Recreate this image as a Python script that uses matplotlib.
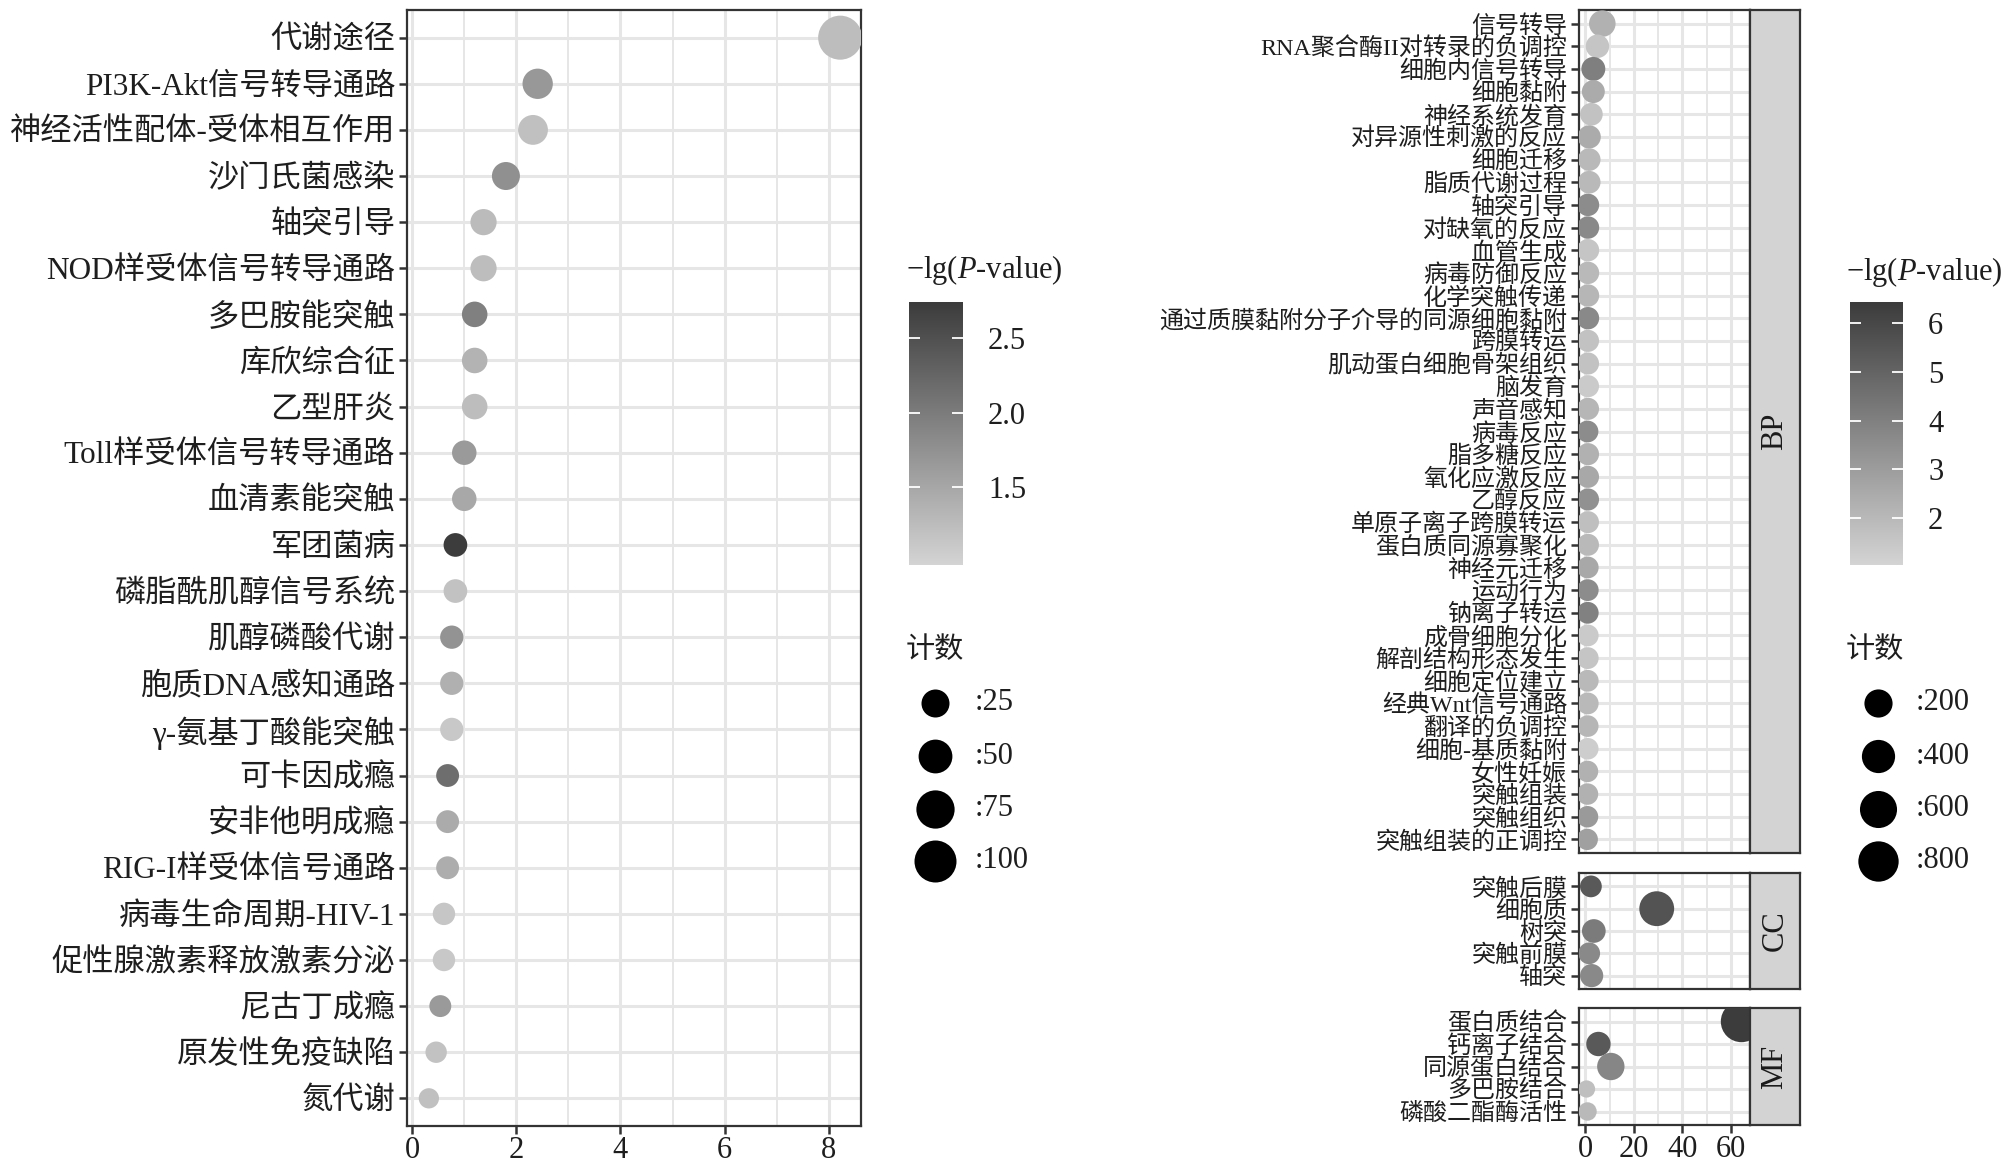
import numpy as np
import matplotlib
matplotlib.use('Agg')
import matplotlib.pyplot as plt
from matplotlib.colors import LinearSegmentedColormap, Normalize

plt.rcParams['font.family'] = ['Liberation Serif', 'Noto Sans CJK SC']
plt.rcParams['mathtext.fontset'] = 'custom'
plt.rcParams['mathtext.rm'] = 'Liberation Serif'
plt.rcParams['mathtext.it'] = 'Liberation Serif:italic'

# ---- KEGG (left) ----
kegg_terms = ['代谢途径', 'PI3K-Akt信号转导通路', '神经活性配体-受体相互作用', '沙门氏菌感染',
              '轴突引导', 'NOD样受体信号转导通路', '多巴胺能突触', '库欣综合征', '乙型肝炎',
              'Toll样受体信号转导通路', '血清素能突触', '军团菌病', '磷脂酰肌醇信号系统',
              '肌醇磷酸代谢', '胞质DNA感知通路', 'γ-氨基丁酸能突触', '可卡因成瘾', '安非他明成瘾',
              'RIG-I样受体信号通路', '病毒生命周期-HIV-1', '促性腺激素释放激素分泌', '尼古丁成瘾',
              '原发性免疫缺陷', '氮代谢']
kegg_x = [8.22, 2.41, 2.32, 1.80, 1.37, 1.37, 1.20, 1.20, 1.20, 1.00, 1.00, 0.83, 0.83,
          0.76, 0.76, 0.76, 0.68, 0.68, 0.68, 0.61, 0.61, 0.54, 0.46, 0.32]
kegg_count = [115, 34, 32, 25, 19, 19, 17, 17, 17, 14, 14, 12, 12,
              11, 11, 11, 10, 10, 10, 9, 9, 8, 7, 5]
kegg_lgp = [1.25, 1.67, 1.21, 1.77, 1.27, 1.25, 1.95, 1.36, 1.25, 1.65, 1.49, 2.74, 1.19,
            1.73, 1.40, 1.12, 2.16, 1.45, 1.43, 1.15, 1.12, 1.65, 1.19, 1.21]
kegg_lgp_lim = (0.98, 2.74)
kegg_size_breaks = [25, 50, 75, 100]
kegg_cbar_ticks = [1.5, 2.0, 2.5]

# ---- GO (right) ----
bp_terms = ['信号转导', 'RNA聚合酶II对转录的负调控', '细胞内信号转导', '细胞黏附', '神经系统发育',
            '对异源性刺激的反应', '细胞迁移', '脂质代谢过程', '轴突引导', '对缺氧的反应', '血管生成',
            '病毒防御反应', '化学突触传递', '通过质膜黏附分子介导的同源细胞黏附', '跨膜转运',
            '肌动蛋白细胞骨架组织', '脑发育', '声音感知', '病毒反应', '脂多糖反应', '氧化应激反应',
            '乙醇反应', '单原子离子跨膜转运', '蛋白质同源寡聚化', '神经元迁移', '运动行为',
            '钠离子转运', '成骨细胞分化', '解剖结构形态发生', '细胞定位建立', '经典Wnt信号通路',
            '翻译的负调控', '细胞-基质黏附', '女性妊娠', '突触组装', '突触组织', '突触组装的正调控']
bp_x = [7.0, 5.0, 3.3, 3.3, 2.5, 1.6, 1.6, 1.6, 1.1, 1.1, 1.1, 1.1, 1.1, 1.1, 1.1, 1.1, 1.1,
        1.1, 0.9, 1.1, 1.1, 1.1, 1.1, 1.1, 1.0, 1.0, 1.0, 1.0, 1.0, 1.0, 1.0, 1.0, 1.0, 0.9,
        0.9, 0.9, 0.8]
bp_count = [150, 75, 85, 65, 60, 70, 60, 60, 55, 55, 55, 55, 55, 55, 50, 50, 50, 50, 45, 50,
            50, 50, 48, 48, 45, 45, 45, 45, 45, 45, 45, 42, 42, 40, 40, 40, 38]
bp_lgp = [2.3, 1.6, 4.06, 2.5, 1.7, 2.5, 2.0, 2.0, 3.6, 3.7, 1.6, 2.0, 2.1, 3.7, 1.7, 1.7,
          1.4, 2.1, 3.6, 2.3, 2.6, 3.4, 1.8, 2.0, 2.6, 3.6, 4.0, 1.4, 1.6, 2.0, 2.0, 2.1,
          1.3, 2.3, 2.3, 3.1, 2.9]

cc_terms = ['突触后膜', '细胞质', '树突', '突触前膜', '轴突']
cc_x = [2.3, 29.4, 3.5, 1.6, 2.6]
cc_count = [45, 480, 80, 45, 70]
cc_lgp = [5.4, 5.6, 4.2, 3.7, 3.7]

mf_terms = ['蛋白质结合', '钙离子结合', '同源蛋白结合', '多巴胺结合', '磷酸二酯酶活性']
mf_x = [64.3, 5.4, 10.5, 0.5, 0.9]
mf_count = [870, 95, 175, 2, 8]
mf_lgp = [6.43, 5.4, 3.8, 1.8, 2.0]

go_lgp_lim = (1.04, 6.43)
go_size_breaks = [200, 400, 600, 800]
go_cbar_ticks = [2, 3, 4, 5, 6]

W, H = 2006, 1171
cmap = LinearSegmentedColormap.from_list('greys', ['#d4d4d4', '#3c3c3c'])
dark = '#333333'
txt = '#1e1e1e'
gridc = '#e6e6e6'


def kegg_size(c):
    d = 14 + 2.8 * np.sqrt(np.asarray(c, float))
    return (d * 0.72) ** 2


def go_size(c):
    d = 16 + 0.86 * np.sqrt(np.asarray(c, float))
    return (d * 0.72) ** 2


def box(l, t, r, b):
    return [l / W, 1 - b / H, (r - l) / W, (b - t) / H]


def panel(ax, terms, xs, counts, lgp, norm, sizefn, xlim, major, minor, fs, xlabels=True):
    y = np.arange(len(terms))
    ax.scatter(xs, y, s=sizefn(counts), c=lgp, cmap=cmap, norm=norm,
               linewidths=0, zorder=3)
    ax.set_yticks(y)
    ax.set_yticklabels(terms, fontsize=fs, color=txt)
    ax.set_ylim(len(terms) - 1 + 0.6, -0.6)
    ax.set_xlim(*xlim)
    ax.set_xticks(major)
    ax.set_xticks(minor, minor=True)
    ax.grid(which='major', color=gridc, lw=2.2)
    ax.grid(which='minor', axis='x', color=gridc, lw=1.4)
    ax.set_axisbelow(True)
    for s in ax.spines.values():
        s.set_color(dark)
        s.set_linewidth(1.6)
    ax.tick_params(axis='both', which='major', length=5.5, width=1.8, color=dark, pad=3)
    ax.tick_params(axis='x', which='minor', length=0)
    ax.tick_params(axis='x', labelsize=22, labelcolor=txt, pad=2)
    if not xlabels:
        ax.tick_params(axis='x', which='both', length=0, labelbottom=False)


def colorbar(rect, lim, ticks, fmt):
    cax = fig.add_axes(rect)
    grad = np.linspace(lim[0], lim[1], 256)[:, None]
    cax.imshow(grad, extent=[0, 1, lim[0], lim[1]], origin='lower', aspect='auto',
               cmap=cmap, norm=Normalize(*lim))
    cax.hlines(ticks, 0, 0.2, color='white', lw=1.3)
    cax.hlines(ticks, 0.8, 1, color='white', lw=1.3)
    cax.set_xlim(0, 1)
    cax.set_ylim(*lim)
    cax.set_xticks([])
    cax.yaxis.tick_right()
    cax.set_yticks(ticks)
    cax.set_yticklabels([fmt.format(t) for t in ticks], fontsize=22, color=txt)
    cax.tick_params(axis='y', length=0, pad=18)
    for s in cax.spines.values():
        s.set_visible(False)


def size_legend(ov, x0, breaks, sizefn, ys, labx):
    for b, yy in zip(breaks, ys):
        ov.scatter([x0], [yy], s=sizefn([b]), color='black', linewidths=0)
        ov.text(labx, yy, ':%d' % b, fontsize=22, va='center', ha='left', color=txt)


fig = plt.figure(figsize=(W / 100, H / 100), dpi=100)

# left panel
ax1 = fig.add_axes(box(407, 10, 861, 1126))
panel(ax1, kegg_terms, kegg_x, kegg_count, kegg_lgp, Normalize(*kegg_lgp_lim), kegg_size,
      (-0.1, 8.62), [0, 2, 4, 6, 8], [1, 3, 5, 7], 22.5)

# right panels (faceted)
xl = (-2.6, 67.8)
facets = [('BP', bp_terms, bp_x, bp_count, bp_lgp, 10, 853),
          ('CC', cc_terms, cc_x, cc_count, cc_lgp, 873, 989),
          ('MF', mf_terms, mf_x, mf_count, mf_lgp, 1008, 1125)]
for i, (name, terms, xs, cnt, lg, top, bot) in enumerate(facets):
    ax = fig.add_axes(box(1579, top, 1750, bot))
    panel(ax, terms, xs, cnt, lg, Normalize(*go_lgp_lim), go_size, xl,
          [0, 20, 40, 60], [10, 30, 50], 17.3, xlabels=(i == 2))
    sax = fig.add_axes(box(1750, top, 1800, bot))
    sax.set_facecolor('#d3d3d3')
    sax.set_xticks([])
    sax.set_yticks([])
    for s in sax.spines.values():
        s.set_color(dark)
        s.set_linewidth(1.6)
    sax.text(0.5, 0.5, name, rotation=90, ha='center', va='center', fontsize=22,
             color='#1a1a1a', transform=sax.transAxes)

# colorbars
colorbar(box(909, 302, 963, 565), kegg_lgp_lim, kegg_cbar_ticks, '{:.1f}')
colorbar(box(1850, 302, 1903, 565), go_lgp_lim, go_cbar_ticks, '{:d}')

# overlay for legend titles and size keys
ov = fig.add_axes([0, 0, 1, 1], zorder=-1)
ov.set_xlim(0, W)
ov.set_ylim(H, 0)
ov.axis('off')
title = '\u2212lg($P$-value)'
ov.text(906, 270, title, fontsize=22, va='center', ha='left', color=txt)
ov.text(1846, 272, title, fontsize=22, va='center', ha='left', color=txt)
ov.text(906, 651, '计数', fontsize=21, va='center', ha='left', color=txt)
ov.text(1846, 651, '计数', fontsize=21, va='center', ha='left', color=txt)
size_legend(ov, 935, kegg_size_breaks, kegg_size, [703, 756, 809, 861], 975)
size_legend(ov, 1878, go_size_breaks, go_size, [703, 756, 809, 861], 1916)

fig.savefig('out.png', dpi=100, facecolor='white')
